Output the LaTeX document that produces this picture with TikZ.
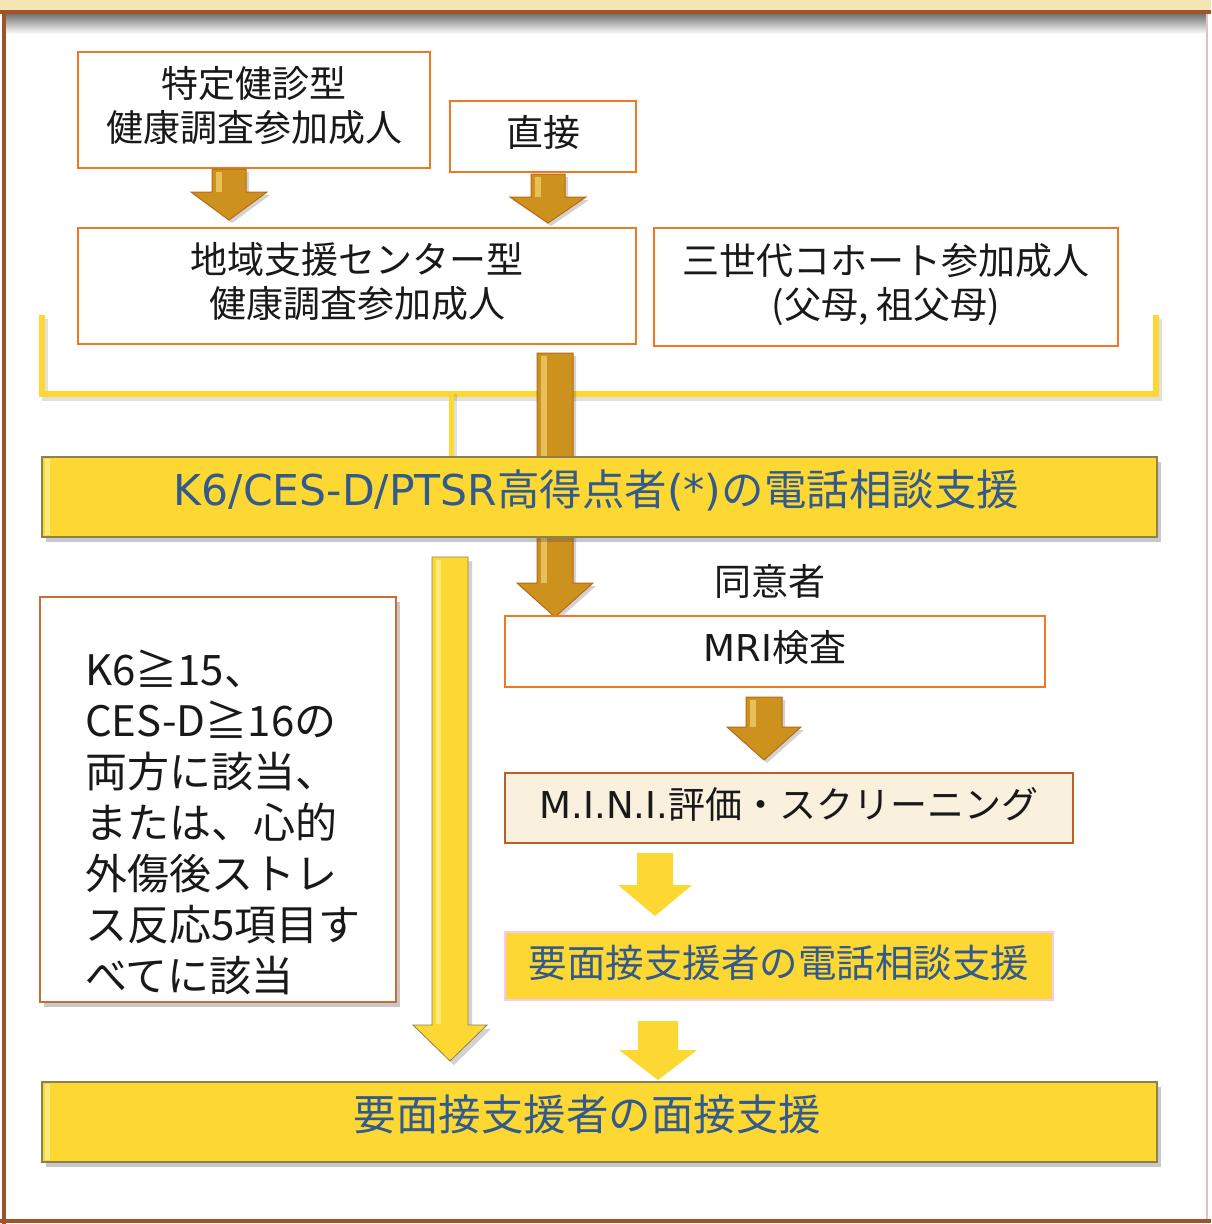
\documentclass[tikz,border=0pt]{standalone}
\usepackage{fontspec}
\setmainfont{Noto Sans CJK JP}
\newfontfamily\lat{DejaVu Sans}
\usetikzlibrary{shadows}

\definecolor{frbrown}{RGB}{160,82,40}
\definecolor{frbeige}{RGB}{245,230,182}
\definecolor{frright}{RGB}{228,196,186}
\definecolor{orgline}{RGB}{240,120,35}
\definecolor{goldfill}{RGB}{205,145,30}
\definecolor{goldline}{RGB}{185,105,20}
\definecolor{goldlite}{RGB}{232,192,90}
\definecolor{yel}{RGB}{253,216,50}
\definecolor{yellite}{RGB}{255,236,120}
\definecolor{olive}{RGB}{140,128,80}
\definecolor{bluetxt}{RGB}{50,90,140}
\definecolor{minifill}{RGB}{250,240,222}
\definecolor{miniline}{RGB}{190,95,40}
\definecolor{pinkline}{RGB}{245,200,245}
\definecolor{lboxline}{RGB}{200,110,50}
\definecolor{txt}{RGB}{25,25,25}

\newcommand{\blkarr}[7]{%
  \path[#1] ({#2-#4},#3) -- ({#2+#4},#3) -- ({#2+#4},#6) -- ({#2+#5},#6)
    -- (#2,#7) -- ({#2-#5},#6) -- ({#2-#4},#6) -- cycle;}
\newcommand{\goldarr}[6]{%
  \blkarr{goldarrow}{#1}{#2}{#3}{#4}{#5}{#6}%
  \fill[goldlite] ({#1-#3+4},{#2+3}) rectangle ({#1-#3+10},{#5});}

\begin{document}
\begin{tikzpicture}[x=1pt,y=-1pt,
  wbox/.style={draw=orgline, line width=2.5pt, fill=white, inner sep=0pt,
    text=txt, align=center, font=\fontsize{37}{44}\selectfont, text depth=12pt},
  ybox/.style={draw=olive, line width=1.2pt, fill=yel, inner sep=0pt,
    text=bluetxt, align=center, font=\fontsize{42.5}{50}\selectfont, text depth=18pt,
    drop shadow={opacity=0.3, shadow xshift=4pt, shadow yshift=-5pt, fill=black!70}},
  goldarrow/.style={fill=goldfill, draw=goldline, line width=1pt,
    drop shadow={opacity=0.25, shadow xshift=3pt, shadow yshift=-3pt, fill=black!70}},
  yarrow/.style={fill=yel},
  ylong/.style={fill=yel, draw=olive, line width=0.8pt,
    drop shadow={opacity=0.25, shadow xshift=4pt, shadow yshift=-4pt, fill=black!70}},
  bracket/.style={draw=yel, line width=6pt, line join=miter},
  bshadow/.style={draw=black!60, opacity=0.2, line width=6pt}
]
\useasboundingbox (0,0) rectangle (1211,1224);
% frame
\fill[white] (0,0) rectangle (1211,1224);
\fill[frbeige] (0,0) rectangle (1211,10);
\shade[top color=black!55, bottom color=white] (6,14) rectangle (1206,34);
\fill[frbrown] (0,10) rectangle (1211,14);
\fill[frbrown] (2,10) rectangle (6,1224);
\fill[frbrown] (0,1219) rectangle (1211,1223);
\fill[frright] (1206,14) rectangle (1208,1219);

% top boxes
\node[wbox, minimum width=352pt, minimum height=116pt] (b1) at (254,110)
  {特定健診型\\健康調査参加成人};
\node[wbox, minimum width=186pt, minimum height=71pt] (b2) at (543,136.5) {直接};
\node[wbox, minimum width=558pt, minimum height=116pt] (b3) at (357,286)
  {地域支援センター型\\健康調査参加成人};
\node[wbox, minimum width=464pt, minimum height=118pt] (b4) at (886,287)
  {三世代コホート参加成人\\(父母, 祖父母)};

% gold arrows top
\goldarr{229}{169}{17}{38}{192}{220}
\goldarr{548}{174}{17}{38}{197}{223}

% bracket
\coordinate (brL) at (42,315);
\coordinate (brR) at (1156,315);
\coordinate (brM) at (451,394);
\draw[bshadow] ([shift={(3,4)}]brL) |- ([shift={(3,4)}]brM) -| ([shift={(3,4)}]brR);
\draw[bracket] (brL) |- (brM) -| (brR);

% long gold arrow behind K6 box
\goldarr{555}{353}{18}{38}{583}{617}

% K6 box
\node[ybox, minimum width=1115pt, minimum height=80pt] (k6) at (599.5,497)
  {{\lat K6/CES-D/PTSR}高得点者{\lat (*)}の電話相談支援\hspace*{6pt}};
\fill[yellite] ([shift={(4,3)}]k6.north west) rectangle ([shift={(9,-3)}]k6.south west);
\draw[bshadow, line width=5pt] ([shift={(3,0)}]brM) -- ([shift={(3,0)}]brM |- k6.north);
\draw[bracket, line width=5pt] (brM) -- (brM |- k6.north);

% left box
\node[draw=lboxline, line width=2pt, fill=white, minimum width=356pt, minimum height=405pt,
  drop shadow={opacity=0.3, shadow xshift=4pt, shadow yshift=-5pt, fill=black!70}]
  (lb) at (218,799.5) {};
\node[anchor=west, align=left, inner sep=0pt, text=txt,
  font=\fontsize{42}{51}\selectfont] (lbtxt) at (85,822)
  {K6≧15、\\CES-D≧16の\\両方に該当、\\または、心的\\外傷後ストレ\\ス反応5項目す\\べてに該当};

% long yellow arrow on the left
\blkarr{ylong}{450}{557}{18}{37}{1025}{1061}
\fill[yellite] (436,560) rectangle (441,1024);

% right column
\node[text=txt, font=\fontsize{37}{44}\selectfont, inner sep=0pt] (agree) at (770,581) {同意者};
\node[wbox, minimum width=540pt, minimum height=71pt] (mri) at (775,651.5)
  {{\lat MRI}検査};
\goldarr{764}{697}{18}{37}{727}{760}
\node[draw=miniline, line width=2.2pt, fill=minifill, text=txt, inner sep=0pt,
  minimum width=568pt, minimum height=70pt, font=\fontsize{37}{44}\selectfont, text depth=10pt]
  (mini) at (789,808) {{\lat M.I.N.I.}評価・スクリーニング};
\blkarr{yarrow}{655}{853}{18}{37}{885}{916}
\node[draw=pinkline, line width=1.5pt, fill=yel, text=bluetxt, inner sep=0pt,
  minimum width=548pt, minimum height=68pt, font=\fontsize{38.5}{46}\selectfont, text depth=10pt]
  (tel) at (779,966) {要面接支援者の電話相談支援};
\blkarr{yarrow}{658}{1021}{20}{39}{1050}{1080}

% final box
\node[ybox, minimum width=1115pt, minimum height=80pt] (fin) at (599.5,1122)
  {要面接支援者の面接支援\hspace*{24pt}};
\fill[yellite] ([shift={(4,3)}]fin.north west) rectangle ([shift={(9,-3)}]fin.south west);
\end{tikzpicture}
\end{document}
